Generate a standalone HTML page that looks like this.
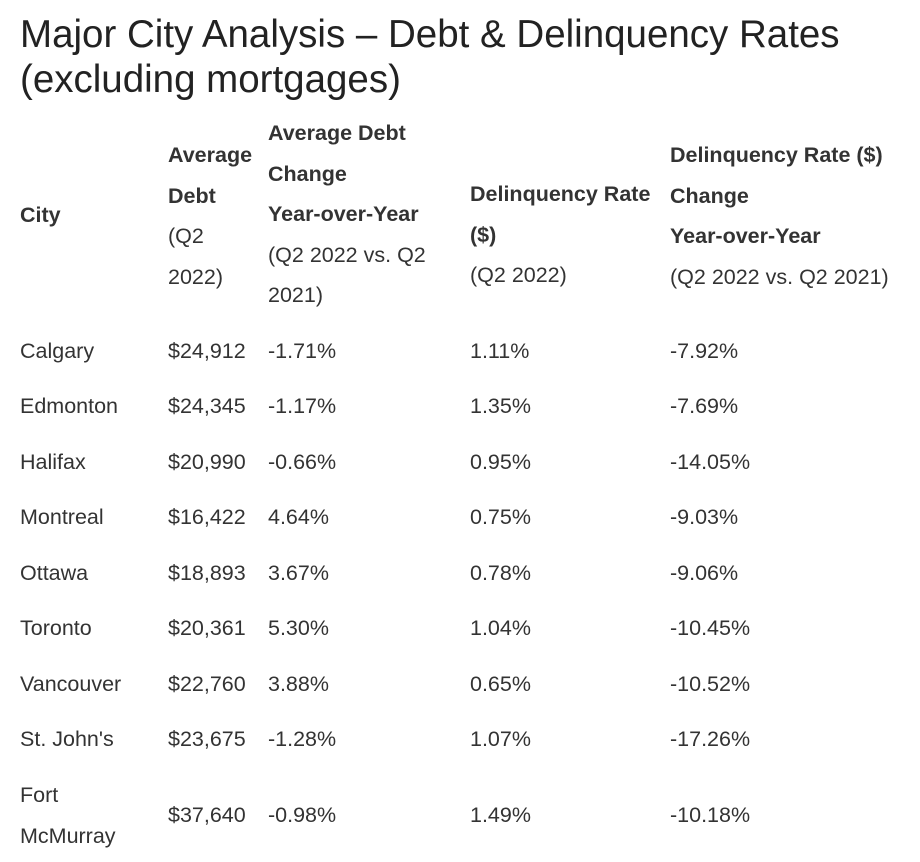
<!DOCTYPE html>
<html><head><meta charset="utf-8"><style>
body{margin:0;width:920px;height:862px;background:#fff;font-family:"Liberation Sans",sans-serif;color:#333;position:relative;overflow:hidden}
.t{position:absolute;left:20px;font-size:38.5px;line-height:44px;color:#222;white-space:nowrap}
.c{position:absolute;font-size:21.5px;line-height:40.5px;white-space:nowrap}
.b{font-weight:bold}
</style></head><body>
<div class="t" style="top:13px">Major City Analysis – Debt &amp; Delinquency Rates</div>
<div class="t" style="top:58px">(excluding mortgages)</div>

<div class="c b" style="left:20px;top:195px">City</div>
<div class="c" style="left:168px;top:135px"><b>Average<br>Debt</b><br>(Q2<br>2022)</div>
<div class="c" style="left:268px;top:113px"><b>Average Debt<br>Change<br>Year-over-Year</b><br>(Q2 2022 vs. Q2<br>2021)</div>
<div class="c" style="left:470px;top:174px"><b>Delinquency Rate<br>($)</b><br>(Q2 2022)</div>
<div class="c" style="left:670px;top:135px"><b>Delinquency Rate ($)<br>Change<br>Year-over-Year</b><br>(Q2 2022 vs. Q2 2021)</div>

<div class="c" style="left:20px;top:331px">Calgary</div><div class="c" style="left:168px;top:331px">$24,912</div><div class="c" style="left:268px;top:331px">-1.71%</div><div class="c" style="left:470px;top:331px">1.11%</div><div class="c" style="left:670px;top:331px">-7.92%</div>
<div class="c" style="left:20px;top:386px">Edmonton</div><div class="c" style="left:168px;top:386px">$24,345</div><div class="c" style="left:268px;top:386px">-1.17%</div><div class="c" style="left:470px;top:386px">1.35%</div><div class="c" style="left:670px;top:386px">-7.69%</div>
<div class="c" style="left:20px;top:442px">Halifax</div><div class="c" style="left:168px;top:442px">$20,990</div><div class="c" style="left:268px;top:442px">-0.66%</div><div class="c" style="left:470px;top:442px">0.95%</div><div class="c" style="left:670px;top:442px">-14.05%</div>
<div class="c" style="left:20px;top:497px">Montreal</div><div class="c" style="left:168px;top:497px">$16,422</div><div class="c" style="left:268px;top:497px">4.64%</div><div class="c" style="left:470px;top:497px">0.75%</div><div class="c" style="left:670px;top:497px">-9.03%</div>
<div class="c" style="left:20px;top:553px">Ottawa</div><div class="c" style="left:168px;top:553px">$18,893</div><div class="c" style="left:268px;top:553px">3.67%</div><div class="c" style="left:470px;top:553px">0.78%</div><div class="c" style="left:670px;top:553px">-9.06%</div>
<div class="c" style="left:20px;top:608px">Toronto</div><div class="c" style="left:168px;top:608px">$20,361</div><div class="c" style="left:268px;top:608px">5.30%</div><div class="c" style="left:470px;top:608px">1.04%</div><div class="c" style="left:670px;top:608px">-10.45%</div>
<div class="c" style="left:20px;top:664px">Vancouver</div><div class="c" style="left:168px;top:664px">$22,760</div><div class="c" style="left:268px;top:664px">3.88%</div><div class="c" style="left:470px;top:664px">0.65%</div><div class="c" style="left:670px;top:664px">-10.52%</div>
<div class="c" style="left:20px;top:719px">St. John's</div><div class="c" style="left:168px;top:719px">$23,675</div><div class="c" style="left:268px;top:719px">-1.28%</div><div class="c" style="left:470px;top:719px">1.07%</div><div class="c" style="left:670px;top:719px">-17.26%</div>
<div class="c" style="left:20px;top:775px">Fort<br>McMurray</div><div class="c" style="left:168px;top:795px">$37,640</div><div class="c" style="left:268px;top:795px">-0.98%</div><div class="c" style="left:470px;top:795px">1.49%</div><div class="c" style="left:670px;top:795px">-10.18%</div>
</body></html>
